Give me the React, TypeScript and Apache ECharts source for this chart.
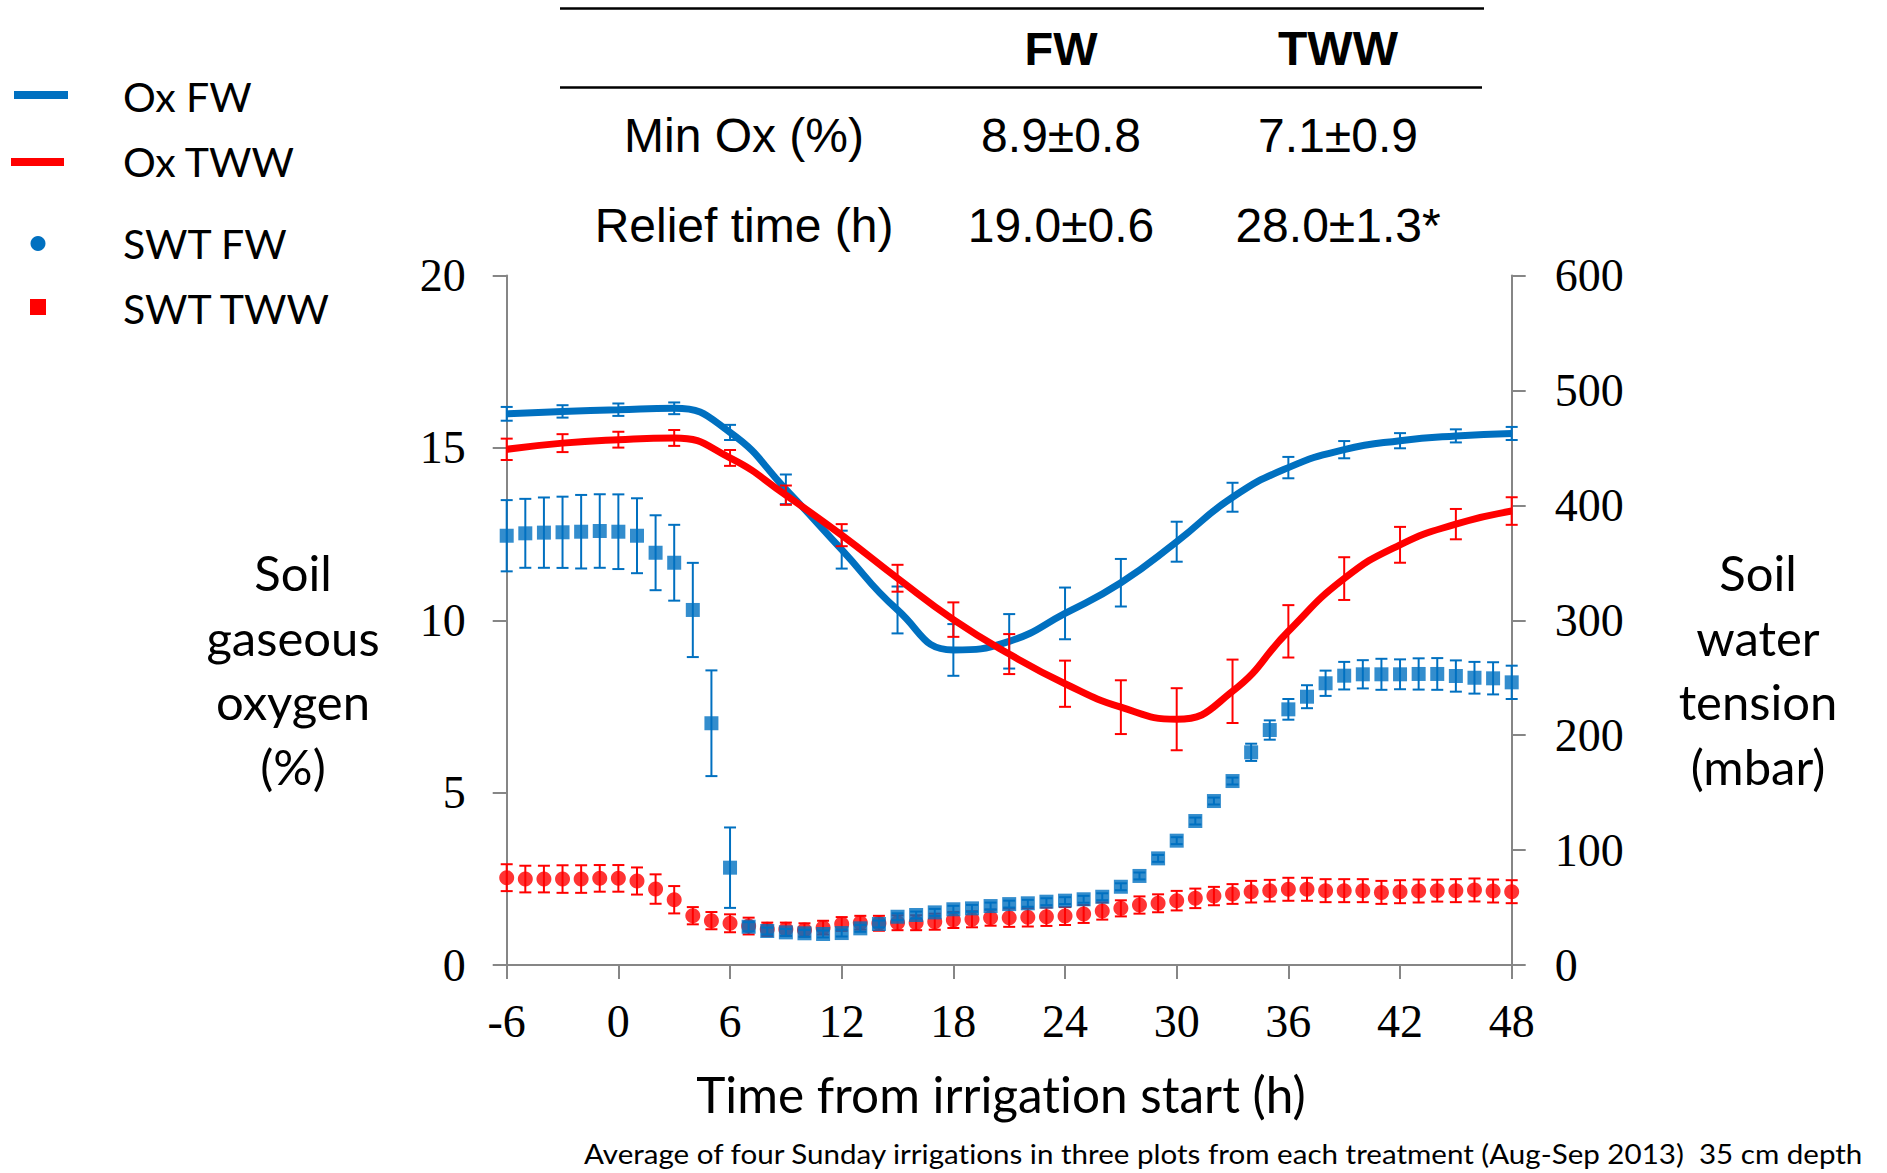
import React, { useEffect, useRef } from "react";
import * as echarts from "echarts";

// Soil oxygen (%) measured every 3 h, mean and standard error
const hoursOx = [-6, -3, 0, 3, 6, 9, 12, 15, 18, 21, 24, 27, 30, 33, 36, 39, 42, 45, 48];
const oxFW = [15.99, 16.06, 16.11, 16.15, 15.45, 13.8, 12.05, 10.3, 9.14, 9.39, 10.2, 11.09, 12.28, 13.57, 14.43, 14.95, 15.21, 15.35, 15.42];
const oxFWErr = [0.2, 0.18, 0.18, 0.17, 0.22, 0.43, 0.55, 0.68, 0.75, 0.79, 0.75, 0.69, 0.58, 0.42, 0.31, 0.25, 0.22, 0.19, 0.19];
const oxTWW = [14.96, 15.14, 15.24, 15.29, 14.71, 13.63, 12.47, 11.22, 10.02, 9.02, 8.16, 7.48, 7.13, 7.94, 9.68, 11.21, 12.19, 12.79, 13.17];
const oxTWWErr = [0.31, 0.26, 0.23, 0.23, 0.23, 0.28, 0.32, 0.39, 0.5, 0.58, 0.67, 0.78, 0.9, 0.92, 0.76, 0.62, 0.52, 0.44, 0.4];

// Soil water tension (mbar) measured hourly
const hoursSwt = [
  -6, -5, -4, -3, -2, -1, 0, 1, 2, 3, 4, 5, 6, 7, 8, 9, 10, 11, 12, 13, 14, 15, 16, 17, 18, 19, 20,
  21, 22, 23, 24, 25, 26, 27, 28, 29, 30, 31, 32, 33, 34, 35, 36, 37, 38, 39, 40, 41, 42, 43, 44, 45,
  46, 47, 48,
];
const swtFW = [
  373.6, 375.7, 376.3, 376.6, 377.1, 377.7, 377.1, 373.6, 358.8, 350.1, 309, 210.4, 84.7, 33.3, 29.6,
  28.4, 27.6, 27, 27.8, 31.9, 35.7, 42, 43.5, 45.8, 48.5, 49.3, 51.3, 53, 53.7, 55.1, 56, 57.2, 59.4,
  68.1, 77.5, 92.8, 108.2, 125.3, 142.7, 160.1, 185.1, 204.5, 222.5, 233.5, 245.2, 251.8, 253, 253,
  253, 253.3, 253.3, 251.5, 250, 249.5, 246,
];
const swtFWErr = [
  31, 30, 30.6, 31, 32, 32, 32.5, 32.6, 32.6, 33, 41, 46, 35, 4, 3, 3, 3, 3, 3, 3, 3, 3, 3, 3, 3, 3,
  3, 3, 3, 3, 3, 3, 3, 3, 3, 3, 3, 3, 3, 3, 7.5, 8.4, 9, 10, 11, 12, 12.3, 13.5, 13, 13.6, 13.8, 13.6,
  13.8, 14, 14.5,
];
const swtTWW = [
  76, 74.8, 74.8, 74.8, 74.8, 75.4, 75.4, 73.1, 66.1, 56.8, 42.9, 38.6, 36.3, 33.9, 31.1, 31.1, 30.5,
  32.5, 35.7, 36.8, 36.3, 36.8, 36.8, 37.7, 39.2, 39.8, 41.2, 41.2, 41.5, 42, 42.6, 44.4, 47, 49.3,
  52.2, 53.7, 56, 58, 60, 61.8, 63.8, 64.7, 65.9, 65.9, 64.7, 64.7, 64.7, 63.2, 63.8, 64.4, 64.7,
  64.7, 65.3, 64.4, 63.8,
];
const swtTWWErr = [
  11.7, 11.6, 11.6, 12, 12, 11.6, 11.6, 11.8, 12.8, 11.9, 7.5, 7.5, 7.8, 7.3, 5.8, 5.8, 5.8, 6, 6, 6,
  6.5, 6.5, 6.5, 7, 7, 7, 7, 8, 8, 8, 7.8, 7.8, 7.5, 7, 7.5, 7.8, 8.5, 8.5, 8, 8.6, 9.4, 9.4, 10, 10,
  10, 10, 10, 10, 10, 10, 9.5, 10, 10, 10, 10,
];

// Summary table
const tableHeader = ["FW", "TWW"];
const tableRows = [
  ["Min Ox (%)", "8.9±0.8", "7.1±0.9"],
  ["Relief time (h)", "19.0±0.6", "28.0±1.3*"],
];

const legendItems = ["Ox FW", "Ox TWW", "SWT FW", "SWT TWW"];

const BLUE = "#0070C0";
const RED = "#FF0000";
const AXIS = "#868686";
const SANS = "Lato";
const SERIF = "Liberation Serif";
const TABLE_FONT = "Liberation Sans";

function errorBars(xs: number[], ys: number[], errs: number[], color: string, yAxisIndex: number, z: number) {
  return {
    type: "custom",
    xAxisIndex: 0,
    yAxisIndex,
    z,
    silent: true,
    data: xs.map((x, i) => [x, ys[i] - errs[i], ys[i] + errs[i]]),
    encode: { x: 0, y: [1, 2] },
    renderItem: (_params: any, api: any) => {
      const x = api.value(0);
      const lo = api.coord([x, api.value(1)]);
      const hi = api.coord([x, api.value(2)]);
      const hw = 6;
      const style = { stroke: color, lineWidth: 2 };
      return {
        type: "group",
        children: [
          { type: "line", shape: { x1: lo[0], y1: lo[1], x2: hi[0], y2: hi[1] }, style },
          { type: "line", shape: { x1: lo[0] - hw, y1: lo[1], x2: lo[0] + hw, y2: lo[1] }, style },
          { type: "line", shape: { x1: hi[0] - hw, y1: hi[1], x2: hi[0] + hw, y2: hi[1] }, style },
        ],
      };
    },
  };
}

function text(t: string, x: number, y: number, size: number, family: string, align = "center", weight = "normal", lineHeight?: number) {
  return {
    type: "text",
    x,
    y,
    silent: true,
    style: {
      text: t,
      fill: "#000",
      fontSize: size,
      fontFamily: family,
      fontWeight: weight,
      align,
      verticalAlign: "middle",
      lineHeight: lineHeight ?? size * 1.2,
    },
  };
}

export default function App() {
  const ref = useRef<HTMLDivElement>(null);

  useEffect(() => {
    if (!ref.current) return;
    const chart = echarts.init(ref.current, undefined, { renderer: "svg" });

    const axisLine = { show: true, onZero: false, lineStyle: { color: AXIS, width: 2 } };
    const axisTick = { show: true, length: 14, lineStyle: { color: AXIS, width: 2 } };
    const tickFont = { fontFamily: SERIF, fontSize: 46, color: "#000" };

    const footnote = {
      ...text(
        "Average of four Sunday irrigations in three plots from each treatment (Aug-Sep 2013)  35 cm depth",
        584,
        1154,
        27,
        SANS,
        "left"
      ),
      scaleX: 1.095,
    };

    const graphic: any[] = [
      // legend
      { type: "rect", shape: { x: 14, y: 91, width: 54, height: 8 }, style: { fill: BLUE } },
      { type: "rect", shape: { x: 11, y: 158, width: 53, height: 8 }, style: { fill: RED } },
      { type: "circle", shape: { cx: 38, cy: 243.5, r: 7.5 }, style: { fill: BLUE } },
      { type: "rect", shape: { x: 30, y: 299, width: 16, height: 16 }, style: { fill: RED } },
      text(legendItems[0], 123, 96, 41, SANS, "left"),
      text(legendItems[1], 123, 161.5, 41, SANS, "left"),
      text(legendItems[2], 123, 243.5, 41, SANS, "left"),
      text(legendItems[3], 123, 308.5, 41, SANS, "left"),
      // table rules
      { type: "line", shape: { x1: 560, y1: 8.5, x2: 1484, y2: 8.5 }, style: { stroke: "#000", lineWidth: 2.4 } },
      { type: "line", shape: { x1: 560, y1: 87.5, x2: 1482, y2: 87.5 }, style: { stroke: "#000", lineWidth: 2.4 } },
      text(tableHeader[0], 1061, 48, 47, TABLE_FONT, "center", "bold"),
      text(tableHeader[1], 1338, 48, 48, TABLE_FONT, "center", "bold"),
      text(tableRows[0][0], 744, 135, 48, TABLE_FONT),
      text(tableRows[0][1], 1061, 135, 48, TABLE_FONT),
      text(tableRows[0][2], 1338, 135, 48, TABLE_FONT),
      text(tableRows[1][0], 744, 225, 48, TABLE_FONT),
      text(tableRows[1][1], 1061, 225, 48, TABLE_FONT),
      text(tableRows[1][2], 1338, 225, 48, TABLE_FONT),
      // axis titles
      text("Soil\ngaseous\noxygen\n(%)", 293, 669, 49, SANS, "center", "normal", 64.5),
      text("Soil\nwater\ntension\n(mbar)", 1758, 669, 49, SANS, "center", "normal", 64.5),
      text("Time from irrigation start (h)", 1001, 1094, 49.5, SANS),
      footnote,
    ];

    chart.setOption({
      animation: false,
      backgroundColor: "#fff",
      grid: { left: 506.7, right: 1887 - 1511.7, top: 275.6, bottom: 1173 - 965, containLabel: false },
      xAxis: {
        type: "value",
        min: -6,
        max: 48,
        interval: 6,
        axisLine,
        axisTick,
        splitLine: { show: false },
        axisLabel: { ...tickFont, margin: 56, verticalAlign: "middle" },
      },
      yAxis: [
        {
          type: "value",
          position: "left",
          min: 0,
          max: 20,
          interval: 5,
          axisLine,
          axisTick,
          splitLine: { show: false },
          axisLabel: { ...tickFont, margin: 41 },
        },
        {
          type: "value",
          position: "right",
          min: 0,
          max: 600,
          interval: 100,
          axisLine,
          axisTick,
          splitLine: { show: false },
          axisLabel: { ...tickFont, margin: 43 },
        },
      ],
      graphic,
      series: [
        errorBars(hoursSwt, swtTWW, swtTWWErr, RED, 1, 2),
        {
          name: legendItems[3],
          type: "scatter",
          yAxisIndex: 1,
          z: 3,
          symbol: "circle",
          symbolSize: 15,
          itemStyle: { color: RED },
          data: hoursSwt.map((h, i) => [h, swtTWW[i]]),
        },
        errorBars(hoursSwt, swtFW, swtFWErr, BLUE, 1, 4),
        {
          name: legendItems[2],
          type: "scatter",
          yAxisIndex: 1,
          z: 5,
          symbol: "rect",
          symbolSize: 14,
          itemStyle: { color: BLUE },
          data: hoursSwt.map((h, i) => [h, swtFW[i]]),
        },
        errorBars(hoursOx, oxFW, oxFWErr, BLUE, 0, 6),
        {
          name: legendItems[0],
          type: "line",
          yAxisIndex: 0,
          z: 7,
          smooth: 0.5,
          showSymbol: false,
          symbol: "none",
          lineStyle: { color: BLUE, width: 7 },
          itemStyle: { color: BLUE },
          data: hoursOx.map((h, i) => [h, oxFW[i]]),
        },
        errorBars(hoursOx, oxTWW, oxTWWErr, RED, 0, 8),
        {
          name: legendItems[1],
          type: "line",
          yAxisIndex: 0,
          z: 9,
          smooth: 0.5,
          showSymbol: false,
          symbol: "none",
          lineStyle: { color: RED, width: 7 },
          itemStyle: { color: RED },
          data: hoursOx.map((h, i) => [h, oxTWW[i]]),
        },
      ],
    });

    return () => chart.dispose();
  }, []);

  return (
    <div
      ref={ref}
      style={{
        position: "fixed",
        left: 0,
        top: 0,
        width: 1887,
        height: 1173,
        background: "#fff",
        fontVariantLigatures: "none",
      }}
    />
  );
}
